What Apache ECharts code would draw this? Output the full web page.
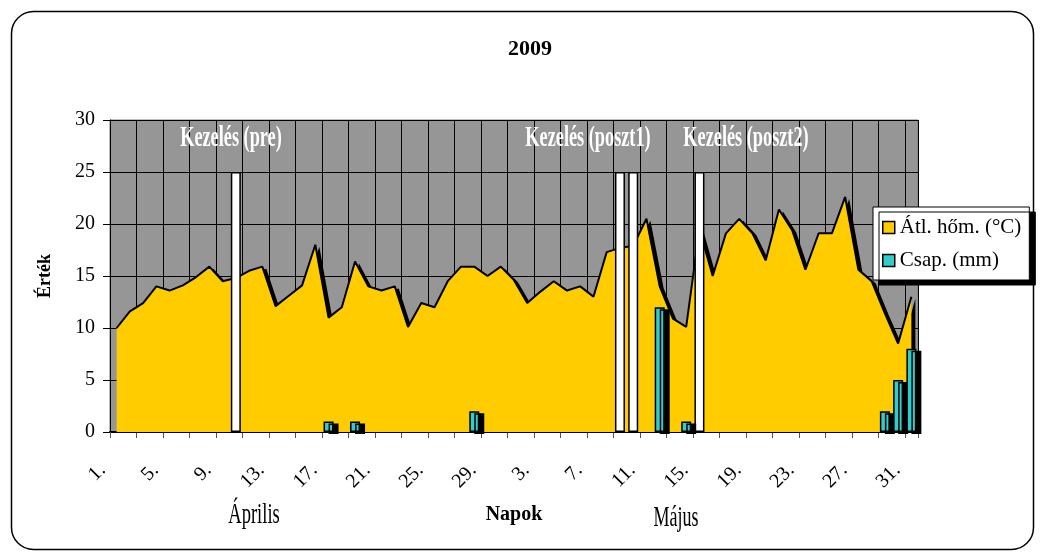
<!DOCTYPE html>
<html>
<head>
<meta charset="utf-8">
<script src="https://cdn.jsdelivr.net/npm/echarts@6/dist/echarts.min.js"></script>
<style>
  html, body { margin: 0; padding: 0; background: #fff; }
  #chart { width: 1040px; height: 552px; }
</style>
</head>
<body>
<div id="chart"></div>
<script>
// napok: április 1-30, május 1-31
const days = [
  '1.', '2.', '3.', '4.', '5.', '6.', '7.', '8.', '9.', '10.',
  '11.', '12.', '13.', '14.', '15.', '16.', '17.', '18.', '19.', '20.',
  '21.', '22.', '23.', '24.', '25.', '26.', '27.', '28.', '29.', '30.',
  '1.', '2.', '3.', '4.', '5.', '6.', '7.', '8.', '9.', '10.',
  '11.', '12.', '13.', '14.', '15.', '16.', '17.', '18.', '19.', '20.',
  '21.', '22.', '23.', '24.', '25.', '26.', '27.', '28.', '29.', '30.', '31.'
]

const temp = [
  10.0, 11.6, 12.4, 14.0, 13.6, 14.1, 14.9, 15.9, 14.5, 14.8,
  15.5, 15.9, 12.1, 13.1, 14.1, 18.0, 11.0, 12.0, 16.4, 14.0,
  13.6, 14.0, 10.1, 12.4, 12.0, 14.5, 15.9, 15.9, 15.0, 15.9,
  14.6, 12.4, 13.5, 14.5, 13.6, 14.0, 13.0, 17.3, 17.7, 17.9,
  20.5, 14.0, 10.9, 10.1, 19.5, 15.0, 19.1, 20.5, 19.1, 16.5,
  21.4, 19.4, 15.6, 19.1, 19.1, 22.6, 15.6, 14.5, 11.4, 8.5, 13.0
]

const precip = [
  null, null, null, null, null, null, null, null, null, null,
  null, null, null, null, null, null, 1, null, 1, null,
  null, null, null, null, null, null, null, 2, null, null,
  null, null, null, null, null, null, null, null, null, null,
  null, 12, null, 1, null, null, null, null, null, null,
  null, null, null, null, null, null, null, null, 2, 5, 8
]

const treatment = [
  null, null, null, null, null, null, null, null, null, 25,
  null, null, null, null, null, null, null, null, null, null,
  null, null, null, null, null, null, null, null, null, null,
  null, null, null, null, null, null, null, null, 25, 25,
  null, null, null, null, 25, null, null, null, null, null,
  null, null, null, null, null, null, null, null, null, null, null
]

const yMin = 0
const yMax = 30
const yStep = 5

const serif = 'Liberation Serif'

let myChart = echarts.init(document.getElementById('chart'))

const options = {
  backgroundColor: '#fff',
  animation: false,
  title: {
    text: '2009',
    left: 503,
    top: 33,
    textStyle: { fontFamily: serif, fontWeight: 'bold', fontSize: 22, color: '#000' }
  },
  legend: {
    orient: 'vertical',
    left: 873,
    top: 207,
    padding: [10, 8, 9, 9],
    itemWidth: 12,
    itemHeight: 12,
    itemGap: 12,
    backgroundColor: '#fff',
    borderColor: '#000',
    borderWidth: 1,
    borderRadius: 0,
    shadowColor: '#000',
    shadowOffsetX: 6,
    shadowOffsetY: 5,
    shadowBlur: 0,
    textStyle: { fontFamily: serif, fontSize: 21, color: '#000' },
    data: [
      {
        name: 'Átl. hőm. (°C)',
        icon: 'rect',
        itemStyle: { color: '#FFCC00', borderColor: '#000', borderWidth: 1.5 },
        lineStyle: { width: 0, opacity: 0 }
      },
      {
        name: 'Csap. (mm)',
        icon: 'rect',
        itemStyle: { color: '#33CCCC', borderColor: '#000', borderWidth: 1.5, shadowBlur: 0, shadowOffsetX: 0, shadowOffsetY: 0 }
      }
    ]
  },
  grid: {
    left: 110,
    right: 122,
    top: 120,
    bottom: 120,
    show: true,
    backgroundColor: '#969696',
    borderColor: '#7a7a7a',
    borderWidth: 1
  },
  xAxis: [
    {
      type: 'category',
      data: days,
      boundaryGap: true,
      name: 'Napok',
      nameLocation: 'middle',
      nameGap: 73,
      nameTextStyle: { fontFamily: serif, fontWeight: 'bold', fontSize: 20, color: '#000' },
      axisLine: { lineStyle: { color: '#000', width: 2 } },
      axisTick: { show: true, length: 6, lineStyle: { color: '#555', width: 1 } },
      axisLabel: {
        // minden második napnál osztásjel, minden negyediknél felirat
        interval: 1,
        formatter: (value, index) => (index % 4 === 0 ? value : ''),
        rotate: 45,
        margin: 21,
        padding: [0, 20, 0, 0],
        fontFamily: serif,
        fontSize: 20,
        color: '#000'
      },
      splitLine: { show: true, lineStyle: { color: '#000', width: 1 } }
    },
    {
      // rejtett segédtengely: függőleges rácsvonalak két naponként
      type: 'value',
      position: 'bottom',
      offset: 0,
      min: 0,
      max: days.length / 2,
      interval: 1,
      axisLine: { show: false },
      axisLabel: { show: false },
      axisTick: { show: true, length: 6, lineStyle: { color: '#555', width: 1 } },
      splitLine: { show: true, lineStyle: { color: '#000', width: 1 } }
    }
  ],
  yAxis: {
    type: 'value',
    min: yMin,
    max: yMax,
    interval: yStep,
    name: 'Érték',
    nameLocation: 'middle',
    nameGap: 56,
    nameRotate: 90,
    nameTextStyle: { fontFamily: serif, fontWeight: 'bold', fontSize: 18, color: '#000' },
    axisLine: { show: true, lineStyle: { color: '#000', width: 1 } },
    axisTick: { show: true, length: 7, lineStyle: { color: '#000' } },
    axisLabel: { margin: 15, fontFamily: serif, fontSize: 20, color: '#000' },
    splitLine: { show: true, lineStyle: { color: '#000', width: 1 } }
  },
  series: [
    {
      name: 'Átl. hőm. (°C)',
      type: 'line',
      xAxisIndex: 0,
      data: temp,
      symbol: 'none',
      z: 2,
      itemStyle: { color: '#FFCC00' },
      lineStyle: { color: '#000', width: 2 },
      areaStyle: {
        color: '#FFCC00',
        opacity: 1,
        shadowColor: '#000',
        shadowOffsetX: 4,
        shadowOffsetY: 2,
        shadowBlur: 0
      }
    },
    {
      name: 'Kezelés',
      type: 'bar',
      xAxisIndex: 0,
      data: treatment,
      barWidth: 10,
      barGap: '-100%',
      z: 3,
      itemStyle: { color: '#fff', borderColor: '#000', borderWidth: 1.5 }
    },
    {
      name: 'Csap. (mm)',
      type: 'bar',
      xAxisIndex: 0,
      data: precip,
      barWidth: 10,
      barGap: '-100%',
      z: 3,
      itemStyle: {
        color: '#33CCCC',
        borderColor: '#000',
        borderWidth: 1.5,
        shadowColor: '#000',
        shadowOffsetX: 5,
        shadowOffsetY: 2,
        shadowBlur: 0
      }
    }
  ],
  graphic: [
    {
      type: 'rect',
      left: 9, top: 9,
      shape: { width: 1022, height: 538, r: 22 },
      style: { fill: 'none', stroke: '#000', lineWidth: 1.5 },
      z: 100
    },
    {
      type: 'text', x: 231, y: 153, scaleX: 0.63, z: 100,
      style: { text: 'Kezelés (pre)', fill: '#fff', font: 'bold 29px "Liberation Serif"', textAlign: 'center', textVerticalAlign: 'bottom' }
    },
    {
      type: 'text', x: 588, y: 153, scaleX: 0.63, z: 100,
      style: { text: 'Kezelés (poszt1)', fill: '#fff', font: 'bold 29px "Liberation Serif"', textAlign: 'center', textVerticalAlign: 'bottom' }
    },
    {
      type: 'text', x: 746, y: 153, scaleX: 0.63, z: 100,
      style: { text: 'Kezelés (poszt2)', fill: '#fff', font: 'bold 29px "Liberation Serif"', textAlign: 'center', textVerticalAlign: 'bottom' }
    },
    {
      type: 'text', x: 254, y: 530, scaleX: 0.64, z: 100,
      style: { text: 'Április', fill: '#000', font: '29px "Liberation Serif"', textAlign: 'center', textVerticalAlign: 'bottom' }
    },
    {
      type: 'text', x: 676, y: 533, scaleX: 0.62, z: 100,
      style: { text: 'Május', fill: '#000', font: '29px "Liberation Serif"', textAlign: 'center', textVerticalAlign: 'bottom' }
    }
  ]
}

myChart.setOption(options)
</script>
</body>
</html>
